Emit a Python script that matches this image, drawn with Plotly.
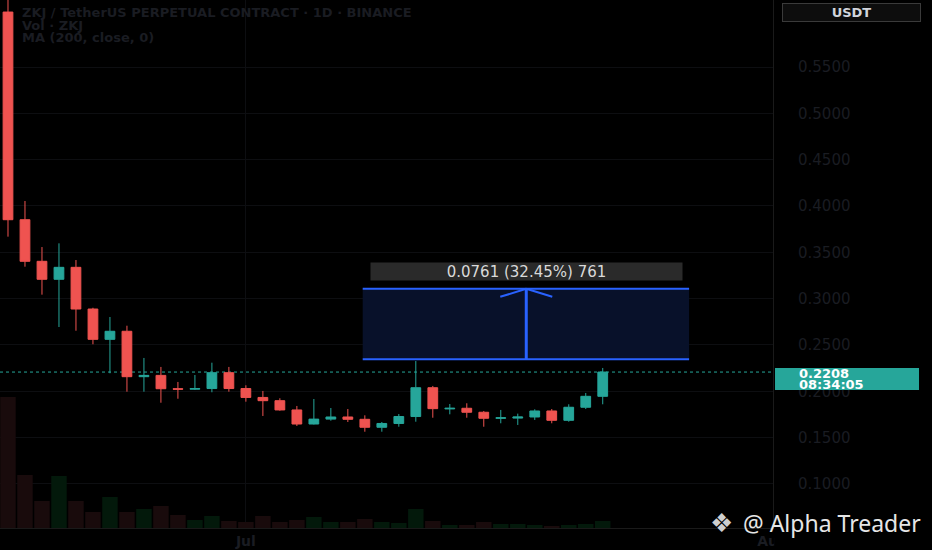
import plotly.graph_objects as go

# ---------------- data ----------------
dates = ["2025-06-17", "2025-06-18", "2025-06-19", "2025-06-20", "2025-06-21", "2025-06-22",
         "2025-06-23", "2025-06-24", "2025-06-25", "2025-06-26", "2025-06-27", "2025-06-28",
         "2025-06-29", "2025-06-30", "2025-07-01", "2025-07-02", "2025-07-03", "2025-07-04",
         "2025-07-05", "2025-07-06", "2025-07-07", "2025-07-08", "2025-07-09", "2025-07-10",
         "2025-07-11", "2025-07-12", "2025-07-13", "2025-07-14", "2025-07-15", "2025-07-16",
         "2025-07-17", "2025-07-18", "2025-07-19", "2025-07-20", "2025-07-21", "2025-07-22"]

open_ = [0.6093, 0.3852, 0.3403, 0.3209, 0.3338, 0.2888, 0.2561, 0.2648, 0.2158, 0.2172,
         0.2028, 0.2023, 0.2030, 0.2201, 0.2030, 0.1934, 0.1899, 0.1799, 0.1647, 0.1700,
         0.1723, 0.1698, 0.1612, 0.1653, 0.1728, 0.2039, 0.1810, 0.1817, 0.1774, 0.1709,
         0.1711, 0.1723, 0.1788, 0.1687, 0.1828, 0.1946]
high = [0.6330, 0.4054, 0.3557, 0.3597, 0.3417, 0.2902, 0.2802, 0.2708, 0.2360, 0.2263,
        0.2101, 0.2176, 0.2309, 0.2263, 0.2065, 0.2004, 0.1925, 0.1842, 0.1917, 0.1820,
        0.1809, 0.1741, 0.1669, 0.1755, 0.2327, 0.2058, 0.1863, 0.1871, 0.1788, 0.1799,
        0.1759, 0.1806, 0.1809, 0.1860, 0.1982, 0.2252]
low = [0.3669, 0.3345, 0.3043, 0.2694, 0.2654, 0.2508, 0.2195, 0.1996, 0.1996, 0.1877,
       0.1920, 0.2014, 0.1990, 0.1996, 0.1888, 0.1734, 0.1791, 0.1626, 0.1642, 0.1683,
       0.1669, 0.1564, 0.1564, 0.1618, 0.1672, 0.1715, 0.1752, 0.1715, 0.1618, 0.1655,
       0.1637, 0.1691, 0.1655, 0.1672, 0.1809, 0.1860]
close = [0.3852, 0.3403, 0.3209, 0.3338, 0.2888, 0.2561, 0.2648, 0.2158, 0.2172, 0.2028,
         0.2023, 0.2030, 0.2201, 0.2030, 0.1934, 0.1899, 0.1799, 0.1647, 0.1700, 0.1723,
         0.1698, 0.1612, 0.1653, 0.1728, 0.2039, 0.1813, 0.1817, 0.1774, 0.1709, 0.1714,
         0.1723, 0.1788, 0.1687, 0.1828, 0.1946, 0.2208]
volume_m = [131, 53, 27, 52, 27, 16, 31, 16, 19, 22, 13, 8, 12, 7, 6, 12, 6, 8,
            11, 6, 6, 9, 6, 5, 19, 7, 3, 3, 6, 4, 4, 3, 2, 3, 4, 7]

price_ticks = [0.10, 0.15, 0.20, 0.25, 0.30, 0.35, 0.40, 0.45, 0.50, 0.55]
time_ticks = ["2025-07-01", "2025-08-01"]

header_lines = ["ZKJ / TetherUS PERPETUAL CONTRACT · 1D · BINANCE", "Vol · ZKJ", "MA (200, close, 0)"]
currency = "USDT"
last_price = 0.2208
countdown = "08:34:05"

measure_start = "2025-07-07 21:00"
measure_end = "2025-07-27 02:00"
measure_mid = "2025-07-17 12:00"
measure_base = 0.2345
measure_change = 0.0761
measure_pct = 32.45
measure_count = 761

watermark = "@ Alpha Treader"

# ---------------- style ----------------
UP = "#26a69a"
DOWN = "#ef5350"
VOL_UP = "#03190b"
VOL_DOWN = "#190b0c"
DIM = "#1a1c22"
BLUE = "#2962ff"

vol_colors = [VOL_UP if c >= o else VOL_DOWN for o, c in zip(open_, close)]

fig = go.Figure()
fig.add_trace(go.Bar(x=dates, y=volume_m, marker=dict(color=vol_colors, line=dict(width=0)),
                     yaxis="y2", hoverinfo="skip", showlegend=False))
fig.add_trace(go.Candlestick(
    x=dates, open=open_, high=high, low=low, close=close,
    increasing=dict(line=dict(color=UP, width=1), fillcolor=UP),
    decreasing=dict(line=dict(color=DOWN, width=1), fillcolor=DOWN),
    whiskerwidth=0, showlegend=False, hoverinfo="skip"))

measure_top = measure_base + measure_change

shapes = [
    dict(type="line", xref="paper", x0=0, x1=1, yref="y", y0=last_price, y1=last_price,
         line=dict(color=UP, width=1, dash="dot"), layer="below"),
    dict(type="rect", xref="x", x0=measure_start, x1=measure_end, yref="y",
         y0=measure_base, y1=measure_top, fillcolor="#08112a", line=dict(width=0), layer="above"),
    dict(type="line", xref="x", x0=measure_start, x1=measure_end, yref="y",
         y0=measure_base, y1=measure_base, line=dict(color=BLUE, width=2), layer="above"),
    dict(type="line", xref="x", x0=measure_start, x1=measure_end, yref="y",
         y0=measure_top, y1=measure_top, line=dict(color=BLUE, width=2), layer="above"),
    dict(type="line", xref="x", x0=measure_mid, x1=measure_mid, yref="y",
         y0=measure_base, y1=measure_top, line=dict(color=BLUE, width=3), layer="above"),
    dict(type="line", xref="x", xsizemode="pixel", xanchor=measure_mid, x0=-26, x1=0,
         yref="y", ysizemode="pixel", yanchor=measure_top, y0=-8, y1=0,
         line=dict(color=BLUE, width=2), layer="above"),
    dict(type="line", xref="x", xsizemode="pixel", xanchor=measure_mid, x0=26, x1=0,
         yref="y", ysizemode="pixel", yanchor=measure_top, y0=-8, y1=0,
         line=dict(color=BLUE, width=2), layer="above"),
    dict(type="rect", xref="paper", x0=1.0015, x1=1.3, yref="paper", y0=-0.1, y1=-0.002,
         fillcolor="#000000", line=dict(width=0), layer="above"),
    dict(type="rect", xref="paper", x0=1.0026, x1=1.1889, yref="y", ysizemode="pixel",
         yanchor=last_price, y0=-18, y1=4, fillcolor=UP, line=dict(width=0), layer="above"),
]

annotations = []
for k, line in enumerate(header_lines):
    annotations.append(dict(text=line, xref="paper", yref="paper", x=0.0259, y=1 - (12.5 + 12.5 * k) / 528,
                            xanchor="left", yanchor="middle", showarrow=False,
                            font=dict(family="DejaVu Sans", size=13, color=DIM, weight="bold")))
annotations += [
    dict(text=currency, xref="paper", yref="paper", x=851.5 / 773, y=1 - 12.5 / 528,
         xanchor="center", yanchor="middle", showarrow=False, width=137, height=17,
         bgcolor="#0d0d0d", bordercolor="#3a3a3a", borderwidth=1, borderpad=0,
         font=dict(family="DejaVu Sans", size=13, color="#d1d4dc", weight="bold")),
    dict(text=f"{measure_change:.4f} ({measure_pct:.2f}%) {measure_count}", xref="x", yref="y",
         x=measure_mid, y=measure_top, yanchor="bottom", yshift=8, showarrow=False,
         width=311, height=17, bgcolor="#2a2a2a", borderpad=0,
         font=dict(family="DejaVu Sans", size=15, color="#d9d9d9")),
    dict(text=f"{last_price:.4f}", xref="paper", yref="y", x=797 / 773, y=last_price,
         xanchor="left", yanchor="middle", yshift=-1, showarrow=False,
         font=dict(family="DejaVu Sans", size=13, color="#ffffff", weight="bold")),
    dict(text=countdown, xref="paper", yref="y", x=797 / 773, y=last_price,
         xanchor="left", yanchor="middle", yshift=-12, showarrow=False,
         font=dict(family="DejaVu Sans", size=13, color="#ffffff", weight="bold")),
    dict(text="❖", xref="paper", yref="paper", x=721 / 773, y=(528 - 523) / 528,
         xanchor="center", yanchor="middle", showarrow=False,
         font=dict(family="DejaVu Sans", size=26, color="#cfcfcf")),
    dict(text=watermark, xref="paper", yref="paper", x=923 / 773, y=(528 - 523) / 528,
         xanchor="right", yanchor="middle", showarrow=False,
         font=dict(family="Noto Sans", size=23, color="#e6e6e6")),
]

fig.update_layout(
    width=932, height=550,
    margin=dict(l=0, r=159, t=0, b=22, pad=0, autoexpand=False),
    paper_bgcolor="#000000", plot_bgcolor="#000000",
    showlegend=False, hovermode=False,
    bargap=0.09, boxgap=0.18,
    shapes=shapes, annotations=annotations,
    xaxis=dict(type="date", range=["2025-06-16 12:43", "2025-08-01 00:29"],
               rangeslider=dict(visible=False), tickvals=time_ticks, tickformat="%b",
               showgrid=True, gridcolor="#0d0e11", gridwidth=1, zeroline=False,
               showline=True, linecolor="#1a1a1a", linewidth=1, ticks="",
               ticklabelstandoff=0, automargin=False,
               tickfont=dict(family="DejaVu Sans", size=14, color=DIM, weight="bold")),
    yaxis=dict(side="right", range=[0.0525, 0.6223], tickvals=price_ticks, tickformat=".4f",
               showgrid=True, gridcolor="#0d0e11", gridwidth=1, zeroline=False,
               showline=True, linecolor="#1a1a1a", linewidth=1, ticks="",
               ticklabelstandoff=21, automargin=False,
               tickfont=dict(family="DejaVu Sans", size=15, color=DIM)),
    yaxis2=dict(overlaying="y", range=[0, 528], visible=False, showgrid=False),
)

fig.write_html("out.html", config={"displayModeBar": False},
               post_script="document.body.style.margin='0';document.body.style.background='#000';")
